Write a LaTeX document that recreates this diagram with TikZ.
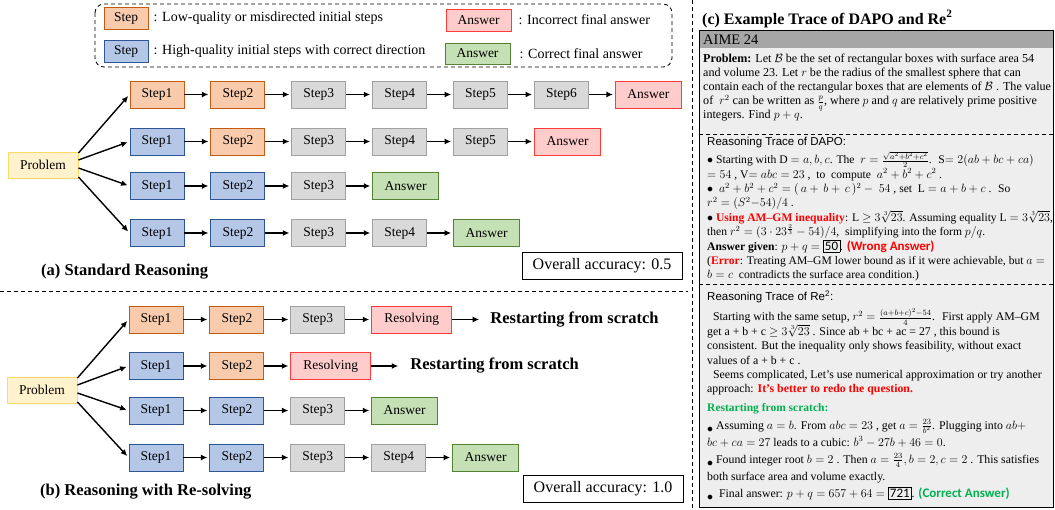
\documentclass[tikz,border=0pt]{standalone}
\usepackage{fontspec}
\setmainfont{Liberation Serif}
\setsansfont{Liberation Sans}
\newfontfamily\calfont{Carlito}
\usetikzlibrary{arrows.meta}
\usetikzlibrary{positioning}

\definecolor{lowfill}{HTML}{F8CBAD}
\definecolor{lowline}{HTML}{C55A11}
\definecolor{highfill}{HTML}{B4C7E7}
\definecolor{highline}{HTML}{2F5597}
\definecolor{midfill}{HTML}{D9D9D9}
\definecolor{midline}{HTML}{A0A0A0}
\definecolor{badfill}{HTML}{FFCCCC}
\definecolor{badline}{HTML}{FF3B3B}
\definecolor{goodfill}{HTML}{C5E0B4}
\definecolor{goodline}{HTML}{548235}
\definecolor{probfill}{HTML}{FFF2CC}
\definecolor{probline}{HTML}{FFD966}
\definecolor{headgray}{HTML}{A6A6A6}
\definecolor{panelgray}{HTML}{EEEEEE}
\definecolor{redtxt}{HTML}{FF0000}
\definecolor{greentxt}{HTML}{00B050}

\newcommand{\lowbul}{\raisebox{-3pt}{$\bullet$}}
\newcommand{\tightlines}{\lineskiplimit-50pt\relax}
\newcommand{\verdict}[2]{{\calfont\bfseries\fontsize{13}{14}\selectfont\color{#1}#2}}
\newcommand{\ansbox}[1]{{\setlength{\fboxsep}{1.5pt}\fbox{\calfont\fontsize{13}{14}\selectfont#1}}}

\begin{document}
\begin{tikzpicture}[x=1pt, y=-1pt,
  box/.style={draw, line width=0.9pt, minimum width=54pt, minimum height=27pt, inner sep=0pt, font=\fontsize{13.5}{16}\selectfont},
  lowstep/.style={box, fill=lowfill, draw=lowline},
  highstep/.style={box, fill=highfill, draw=highline},
  plainstep/.style={box, fill=midfill, draw=midline},
  badans/.style={box, fill=badfill, draw=badline, minimum width=66pt},
  goodans/.style={box, fill=goodfill, draw=goodline, minimum width=66pt},
  resolvebox/.style={box, fill=badfill, draw=badline, minimum width=80pt},
  probbox/.style={box, fill=probfill, draw=probline, minimum width=70pt, minimum height=26pt},
  flow/.style={-{Latex[length=6.5pt,width=6pt]}, line width=1.4pt, shorten >=2pt},
  legtext/.style={inner sep=0pt, anchor=west, font=\fontsize{14}{17}\selectfont},
  paneltitle/.style={inner sep=0pt, anchor=west, font=\bfseries\fontsize{16.5}{20}\selectfont},
  restart/.style={inner sep=0pt, font=\bfseries\fontsize{16.5}{20}\selectfont},
  accbox/.style={draw, line width=0.9pt, minimum width=160pt, minimum height=27pt, font=\fontsize{16}{19}\selectfont},
  trace/.style={inner sep=0pt, anchor=base west, align=left, font=\fontsize{11.6}{14.4}\selectfont\tightlines},
  sechead/.style={inner sep=0pt, anchor=base west, font=\sffamily\fontsize{11.5}{14}\selectfont}]
\useasboundingbox (0,0) rectangle (1055,510);

\draw[dashed, dash pattern=on 4pt off 3pt, line width=0.8pt, rounded corners=9pt] (95,4) rectangle (672,67);
\node[lowstep, minimum width=44pt, minimum height=22pt] (keylow) at (126,18) {Step};
\node[legtext, right=5pt of keylow] {: Low-quality or misdirected initial steps};
\node[highstep, minimum width=44pt, minimum height=22pt] (keyhigh) at (126,51) {Step};
\node[legtext, right=5pt of keyhigh] {: High-quality initial steps with correct direction};
\node[badans, minimum width=65pt, minimum height=22pt] (keybad) at (478.5,20) {Answer};
\node[legtext, right=7pt of keybad] {: Incorrect final answer};
\node[goodans, minimum width=65pt, minimum height=21pt] (keygood) at (477.5,53.5) {Answer};
\node[legtext, right=9pt of keygood] {: Correct final answer};

\node[probbox] (pa) at (43,165) {Problem};
\node[lowstep] (a1s1) at (157,94.5) {Step1};
\node[lowstep, right=26pt of a1s1] (a1s2) {Step2};
\node[plainstep, right=26pt of a1s2] (a1s3) {Step3};
\node[plainstep, right=26pt of a1s3] (a1s4) {Step4};
\node[plainstep, right=26pt of a1s4] (a1s5) {Step5};
\node[plainstep, right=26pt of a1s5] (a1s6) {Step6};
\node[badans, right=26pt of a1s6] (a1ans) {Answer};
\node[highstep] (a2s1) at (157,141.5) {Step1};
\node[lowstep, right=26pt of a2s1] (a2s2) {Step2};
\node[plainstep, right=26pt of a2s2] (a2s3) {Step3};
\node[plainstep, right=26pt of a2s3] (a2s4) {Step4};
\node[plainstep, right=26pt of a2s4] (a2s5) {Step5};
\node[badans, right=26pt of a2s5] (a2ans) {Answer};
\node[highstep] (a3s1) at (157,186) {Step1};
\node[highstep, right=26pt of a3s1] (a3s2) {Step2};
\node[plainstep, right=26pt of a3s2] (a3s3) {Step3};
\node[goodans, right=26pt of a3s3] (a3ans) {Answer};
\node[highstep] (a4s1) at (157,233) {Step1};
\node[highstep, right=26pt of a4s1] (a4s2) {Step2};
\node[plainstep, right=26pt of a4s2] (a4s3) {Step3};
\node[plainstep, right=26pt of a4s3] (a4s4) {Step4};
\node[goodans, right=26pt of a4s4] (a4ans) {Answer};

\draw[flow] ([yshift=12pt]pa.east) -- (a1s1.west);
\draw[flow] ([yshift=5pt]pa.east) -- (a2s1.west);
\draw[flow] ([yshift=-3pt]pa.east) -- (a3s1.west);
\draw[flow] ([yshift=-12pt]pa.east) -- (a4s1.west);
\draw[flow] (a1s1) edge (a1s2) (a1s2) edge (a1s3) (a1s3) edge (a1s4) (a1s4) edge (a1s5) (a1s5) edge (a1s6) (a1s6) edge (a1ans);
\draw[flow] (a2s1) edge (a2s2) (a2s2) edge (a2s3) (a2s3) edge (a2s4) (a2s4) edge (a2s5) (a2s5) edge (a2ans);
\draw[flow] (a3s1) edge (a3s2) (a3s2) edge (a3s3) (a3s3) edge (a3ans);
\draw[flow] (a4s1) edge (a4s2) (a4s2) edge (a4s3) (a4s3) edge (a4s4) (a4s4) edge (a4ans);

\node[paneltitle] (tita) at (41,272) {(a) Standard Reasoning};
\node[accbox] (acca) at (602,265.5) {Overall accuracy: 0.5};

\draw[dashed, dash pattern=on 4pt off 3pt, line width=0.8pt] (0,291) -- (688,291);
\draw[dashed, dash pattern=on 4pt off 3pt, line width=0.8pt] (692,0) -- (692,510);

\node[probbox] (pb) at (42,390) {Problem};
\node[lowstep] (b1s1) at (156,319.5) {Step1};
\node[lowstep, right=26pt of b1s1] (b1s2) {Step2};
\node[plainstep, right=26pt of b1s2] (b1s3) {Step3};
\node[resolvebox, right=26pt of b1s3] (b1res) {Resolving};
\node[restart, anchor=west, right=38pt of b1res] (b1txt) {Restarting from scratch};
\node[highstep] (b2s1) at (156,366) {Step1};
\node[lowstep, right=26pt of b2s1] (b2s2) {Step2};
\node[resolvebox, right=26pt of b2s2] (b2res) {Resolving};
\node[restart, anchor=west, right=39pt of b2res] (b2txt) {Restarting from scratch};
\node[highstep] (b3s1) at (156,410.5) {Step1};
\node[highstep, right=26pt of b3s1] (b3s2) {Step2};
\node[plainstep, right=26pt of b3s2] (b3s3) {Step3};
\node[goodans, right=26pt of b3s3] (b3ans) {Answer};
\node[highstep] (b4s1) at (156,457.5) {Step1};
\node[highstep, right=26pt of b4s1] (b4s2) {Step2};
\node[plainstep, right=26pt of b4s2] (b4s3) {Step3};
\node[plainstep, right=26pt of b4s3] (b4s4) {Step4};
\node[goodans, right=26pt of b4s4] (b4ans) {Answer};

\draw[flow] ([yshift=12pt]pb.east) -- (b1s1.west);
\draw[flow] ([yshift=5pt]pb.east) -- (b2s1.west);
\draw[flow] ([yshift=-3pt]pb.east) -- (b3s1.west);
\draw[flow] ([yshift=-12pt]pb.east) -- (b4s1.west);
\draw[flow] (b1s1) edge (b1s2) (b1s2) edge (b1s3) (b1s3) edge (b1res);
\draw[flow, shorten >=11pt] (b1res) -- (b1txt);
\draw[flow] (b2s1) edge (b2s2) (b2s2) edge (b2res);
\draw[flow, shorten >=12pt] (b2res) -- (b2txt);
\draw[flow] (b3s1) edge (b3s2) (b3s2) edge (b3s3) (b3s3) edge (b3ans);
\draw[flow] (b4s1) edge (b4s2) (b4s2) edge (b4s3) (b4s3) edge (b4s4) (b4s4) edge (b4ans);

\node[paneltitle] (titb) at (40,492) {(b) Reasoning with Re-solving};
\node[accbox] (accb) at (603,488.5) {Overall accuracy: 1.0};

% example trace panel, blocks are placed by the baseline of their last line
\node[paneltitle, font=\bfseries\fontsize{16}{19}\selectfont] (titc) at (702,19) {(c) Example Trace of DAPO and Re\textsuperscript{2}};
\fill[panelgray] (699,30) rectangle (1053,507);
\fill[headgray] (699,30) rectangle (1053,48);
\draw[line width=0.8pt] (699,30) rectangle (1053,507);
\node[inner sep=0pt, anchor=west, font=\fontsize{14.5}{17}\selectfont] (aime) at (703,39.5) {AIME 24};
\node[trace, font=\fontsize{12.1}{14}\selectfont\tightlines] (prob) at (703,119) {%
\textbf{Problem:} Let $\mathcal{B}$ be the set of rectangular boxes with surface area 54\\
and volume 23. Let $r$ be the radius of the smallest sphere that can\\
contain each of the rectangular boxes that are elements of $\mathcal{B}$ . The value\\
of \ $r^2$ can be written as $\frac{p}{q}$, where $p$ and $q$ are relatively prime positive\\
integers. Find $p+q$.};
\draw[dashed, dash pattern=on 4pt off 3pt, line width=0.8pt] (699,134) -- (1053,134);

\node[sechead] (dapohead) at (707,146) {Reasoning Trace of DAPO:};
\node[trace] (dapo) at (707,279) {%
$\bullet$ Starting with D $=a,b,c$. The \ $r=\frac{\sqrt{a^2+b^2+c^2}}{2}$. \ S$=2(ab+bc+ca)$\\
$=54$ , V$=abc=23$ , \ to \ compute \ $a^2+b^2+c^2$ .\\
$\bullet$ \ $a^2+b^2+c^2=(\,a+\,b+\,c\,)^2-\ 54$ , set \ L $=a+b+c$ . \ So\\
$r^2=(S^2{-}54)/4$ .\\
$\bullet$ {\color{redtxt}\bfseries Using AM--GM inequality}: L $\geq3\sqrt[3]{23}$. Assuming equality L $=3\sqrt[3]{23}$,\\
then $r^2=(3\cdot23^{\frac{2}{3}}-54)/4$, \ simplifying into the form $p/q$.\\
\textbf{Answer given}: $p+q=$ \ansbox{50}. \verdict{redtxt}{(Wrong Answer)}\\
({\color{redtxt}\bfseries Error}: Treating AM--GM lower bound as if it were achievable, but $a=$\\
$b=c$ \ contradicts the surface area condition.)};
\draw[dashed, dash pattern=on 4pt off 3pt, line width=0.8pt] (699,284) -- (1053,284);

\node[sechead] (rehead) at (707,301) {Reasoning Trace of Re\textsuperscript{2}:};
\node[trace, font=\fontsize{11.8}{14.4}\selectfont\tightlines] (retr) at (707,393) {%
\ \ Starting with the same setup, $r^2=\frac{(a+b+c)^2-54}{4}$. \ First apply AM--GM\\
get a + b + c $\geq 3\sqrt[3]{23}$ . Since ab + bc + ac = 27 , this bound is\\
consistent. But the inequality only shows feasibility, without exact\\
values of a + b + c .\\
\ \ Seems complicated, Let's use numerical approximation or try another\\
approach: {\color{redtxt}\bfseries It's better to redo the question.}};

\node[trace, font=\bfseries\fontsize{11.5}{14}\selectfont\color{greentxt}] (rshead) at (707,412) {Restarting from scratch:};
\node[trace, font=\fontsize{11.8}{17}\selectfont\tightlines] (rs) at (707,497) {%
\lowbul\ Assuming $a=b$. From $abc=23$ , get $a=\frac{23}{b^2}$. Plugging into $ab+$\\
$bc+ca=27$ leads to a cubic: $b^3-27b+46=0$.\\
\lowbul\ Found integer root $b=2$ . Then $a=\frac{23}{4},b=2,c=2$ . This satisfies\\
both surface area and volume exactly.\\
\lowbul\ \ Final answer: $p+q=657+64=$ \ansbox{721}. \verdict{greentxt}{(Correct Answer)}};

\end{tikzpicture}
\end{document}
